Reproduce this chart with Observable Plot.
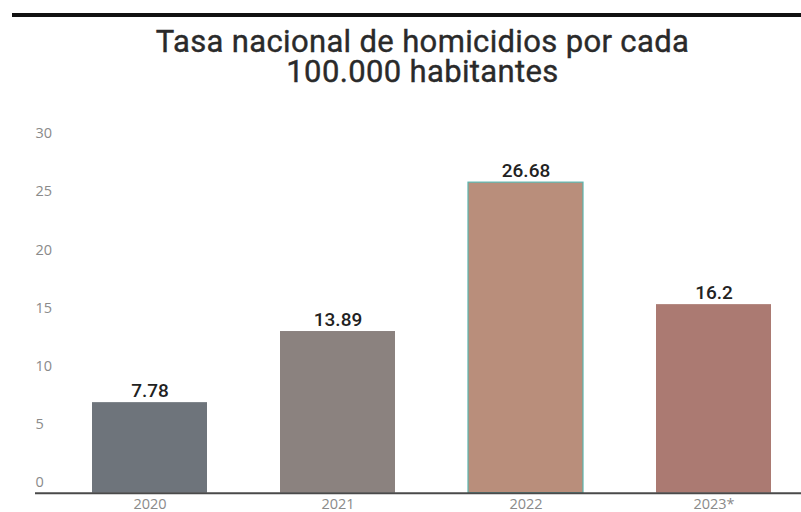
<!DOCTYPE html>
<html>
<head>
<meta charset="utf-8">
<script src="https://cdn.jsdelivr.net/npm/d3@7"></script>
<script src="https://cdn.jsdelivr.net/npm/@observablehq/plot@0.6"></script>
<style>
  html, body { margin: 0; padding: 0; background: #fff; overflow: hidden; }
  #wrap { width: 801px; height: 512px; position: relative; }
  #topline { position: absolute; left: 12px; right: 0; top: 13px; height: 4px; background: #111; }
  .tline { position: absolute; left: 0; width: 845px; height: 30px; text-align: center; overflow: visible;
    font-family: Roboto, sans-serif; font-size: 31px; font-weight: 400; line-height: 30px; color: #2a2a2a;
    letter-spacing: 0.35px; -webkit-text-stroke: 0.4px #2a2a2a; }
  #chart { position: absolute; left: 0; top: 100px; }
</style>
</head>
<body>
<div id="wrap">
  <div id="topline"></div>
  <div class="tline" style="top:27px">Tasa nacional de homicidios por cada</div>
  <div class="tline" style="top:57px">100.000 habitantes</div>
  <div id="chart"></div>
</div>
<script>
const years = ["2020", "2021", "2022", "2023*"];
const rates = [7.78, 13.89, 26.68, 16.2];
const labels = ["7.78", "13.89", "26.68", "16.2"];
const colors = ["#6e747b", "#8b827f", "#b98e7b", "#ab7a72"];
const strokes = ["none", "none", "#5bb5ae", "none"];
const yTicks = [0, 5, 10, 15, 20, 25, 30];

const data = years.map((y, i) => ({year: y, rate: rates[i], label: labels[i], color: colors[i], stroke: strokes[i]}));

const chart = Plot.plot({
  width: 801,
  height: 412,
  marginLeft: 35,
  marginRight: 0,
  marginTop: 43.5,
  marginBottom: 19.3,
  style: {fontFamily: "'Open Sans', sans-serif", background: "transparent", overflow: "visible"},
  x: {domain: years, range: [90, 773], paddingInner: 0.386, paddingOuter: 0, label: null},
  y: {domain: [0, 30], label: null},
  marks: [
    Plot.barY(data, {x: "year", y: "rate", fill: "color", stroke: "stroke", strokeWidth: 1.2}),
    Plot.ruleY([0], {stroke: "#4a4a4a", strokeWidth: 2}),
    Plot.text(data, {x: "year", y: "rate", text: "label", lineAnchor: "bottom", dy: -6,
      fontFamily: "Roboto, sans-serif", fontSize: 19, fontWeight: 500, fill: "#222"}),
    Plot.axisY({ticks: yTicks, tickSize: 0, tickPadding: 0, textAnchor: "start", dy: -10.5,
      fontSize: 14.5, fill: "#8a8a8a", label: null}),
    Plot.axisX({tickSize: 0, tickPadding: 6, fontSize: 14.5, fill: "#8a8a8a", label: null})
  ]
});
document.getElementById("chart").appendChild(chart);
</script>
</body>
</html>
